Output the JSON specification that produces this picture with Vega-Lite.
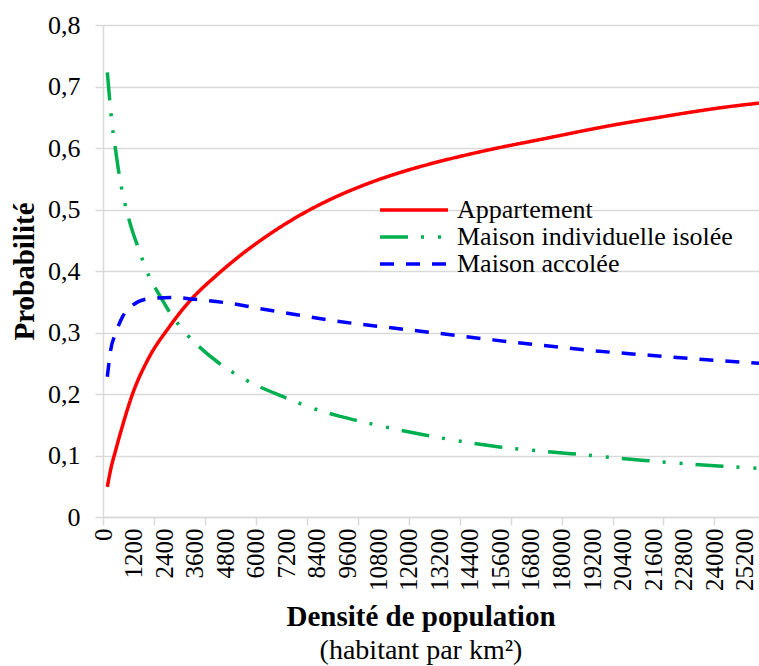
{
  "$schema": "https://vega.github.io/schema/vega-lite/v6.json",
  "width": 656,
  "height": 492,
  "autosize": {"type": "none"},
  "padding": {"left": 103, "top": 25, "right": 0, "bottom": 149},
  "config": {"view": {"stroke": null}},
  "title": {
    "text": "Densité de population",
    "subtitle": "(habitant par km²)",
    "orient": "bottom",
    "anchor": "middle",
    "font": "serif",
    "fontSize": 29,
    "fontWeight": "bold",
    "color": "black",
    "subtitleFont": "serif",
    "subtitleFontSize": 28,
    "subtitleFontWeight": "normal",
    "subtitleColor": "black",
    "subtitlePadding": 5,
    "offset": 12,
    "dx": -10
  },
  "data": {
    "values": [
      {"serie": "Appartement", "x": 170, "p": 0.049},
      {"serie": "Appartement", "x": 300, "p": 0.077},
      {"serie": "Appartement", "x": 500, "p": 0.109},
      {"serie": "Appartement", "x": 750, "p": 0.146},
      {"serie": "Appartement", "x": 1150, "p": 0.199},
      {"serie": "Appartement", "x": 1750, "p": 0.255},
      {"serie": "Appartement", "x": 2600, "p": 0.309},
      {"serie": "Appartement", "x": 3400, "p": 0.351},
      {"serie": "Appartement", "x": 4430, "p": 0.392},
      {"serie": "Appartement", "x": 5350, "p": 0.424},
      {"serie": "Appartement", "x": 6650, "p": 0.463},
      {"serie": "Appartement", "x": 7960, "p": 0.496},
      {"serie": "Appartement", "x": 9270, "p": 0.523},
      {"serie": "Appartement", "x": 10580, "p": 0.545},
      {"serie": "Appartement", "x": 11890, "p": 0.563},
      {"serie": "Appartement", "x": 13200, "p": 0.578},
      {"serie": "Appartement", "x": 14500, "p": 0.591},
      {"serie": "Appartement", "x": 15600, "p": 0.601},
      {"serie": "Appartement", "x": 16700, "p": 0.610},
      {"serie": "Appartement", "x": 17790, "p": 0.619},
      {"serie": "Appartement", "x": 19100, "p": 0.630},
      {"serie": "Appartement", "x": 20400, "p": 0.640},
      {"serie": "Appartement", "x": 21700, "p": 0.649},
      {"serie": "Appartement", "x": 23030, "p": 0.658},
      {"serie": "Appartement", "x": 24340, "p": 0.666},
      {"serie": "Appartement", "x": 25750, "p": 0.673},
      {"serie": "Maison individuelle isolée", "x": 170, "p": 0.723},
      {"serie": "Maison individuelle isolée", "x": 366, "p": 0.635},
      {"serie": "Maison individuelle isolée", "x": 500, "p": 0.595},
      {"serie": "Maison individuelle isolée", "x": 630, "p": 0.558},
      {"serie": "Maison individuelle isolée", "x": 1020, "p": 0.484},
      {"serie": "Maison individuelle isolée", "x": 1415, "p": 0.434},
      {"serie": "Maison individuelle isolée", "x": 1800, "p": 0.392},
      {"serie": "Maison individuelle isolée", "x": 2200, "p": 0.362},
      {"serie": "Maison individuelle isolée", "x": 2600, "p": 0.334},
      {"serie": "Maison individuelle isolée", "x": 3310, "p": 0.296},
      {"serie": "Maison individuelle isolée", "x": 3770, "p": 0.277},
      {"serie": "Maison individuelle isolée", "x": 4560, "p": 0.250},
      {"serie": "Maison individuelle isolée", "x": 5600, "p": 0.223},
      {"serie": "Maison individuelle isolée", "x": 7050, "p": 0.196},
      {"serie": "Maison individuelle isolée", "x": 8220, "p": 0.177},
      {"serie": "Maison individuelle isolée", "x": 9270, "p": 0.164},
      {"serie": "Maison individuelle isolée", "x": 9860, "p": 0.158},
      {"serie": "Maison individuelle isolée", "x": 12680, "p": 0.133},
      {"serie": "Maison individuelle isolée", "x": 15560, "p": 0.114},
      {"serie": "Maison individuelle isolée", "x": 18380, "p": 0.103},
      {"serie": "Maison individuelle isolée", "x": 21260, "p": 0.092},
      {"serie": "Maison individuelle isolée", "x": 24140, "p": 0.083},
      {"serie": "Maison individuelle isolée", "x": 25750, "p": 0.079},
      {"serie": "Maison accolée", "x": 170, "p": 0.228},
      {"serie": "Maison accolée", "x": 300, "p": 0.271},
      {"serie": "Maison accolée", "x": 500, "p": 0.299},
      {"serie": "Maison accolée", "x": 760, "p": 0.325},
      {"serie": "Maison accolée", "x": 1150, "p": 0.344},
      {"serie": "Maison accolée", "x": 1800, "p": 0.355},
      {"serie": "Maison accolée", "x": 2700, "p": 0.357},
      {"serie": "Maison accolée", "x": 3600, "p": 0.354},
      {"serie": "Maison accolée", "x": 4700, "p": 0.349},
      {"serie": "Maison accolée", "x": 5500, "p": 0.344},
      {"serie": "Maison accolée", "x": 6000, "p": 0.340},
      {"serie": "Maison accolée", "x": 7300, "p": 0.331},
      {"serie": "Maison accolée", "x": 8900, "p": 0.320},
      {"serie": "Maison accolée", "x": 11240, "p": 0.308},
      {"serie": "Maison accolée", "x": 13200, "p": 0.2985},
      {"serie": "Maison accolée", "x": 15300, "p": 0.288},
      {"serie": "Maison accolée", "x": 17260, "p": 0.279},
      {"serie": "Maison accolée", "x": 19360, "p": 0.270},
      {"serie": "Maison accolée", "x": 21450, "p": 0.263},
      {"serie": "Maison accolée", "x": 23550, "p": 0.256},
      {"serie": "Maison accolée", "x": 25750, "p": 0.250}
    ]
  },
  "layer": [
    {
      "mark": {"type": "line", "strokeWidth": 3.5, "interpolate": "monotone", "strokeCap": "butt"},
      "encoding": {
        "x": {
          "field": "x",
          "type": "quantitative",
          "scale": {"domain": [0, 25750], "nice": false},
          "axis": {
            "orient": "bottom",
            "values": [0, 1200, 2400, 3600, 4800, 6000, 7200, 8400, 9600, 10800, 12000, 13200, 14400, 15600, 16800, 18000, 19200, 20400, 21600, 22800, 24000, 25200],
            "format": "d",
            "labelAngle": -90,
            "labelAlign": "right",
            "labelBaseline": "middle",
            "labelFont": "serif",
            "labelFontSize": 25,
            "labelColor": "black",
            "labelPadding": 11,
            "labelOverlap": false,
            "labelFlush": false,
            "labelBound": false,
            "ticks": false,
            "domainColor": "#d9d9d9",
            "domainWidth": 1.5,
            "grid": false,
            "title": null
          }
        },
        "y": {
          "field": "p",
          "type": "quantitative",
          "scale": {"domain": [0, 0.8], "nice": false},
          "axis": {
            "values": [0, 0.1, 0.2, 0.3, 0.4, 0.5, 0.6, 0.7, 0.8],
            "labelExpr": "datum.value == 0 ? '0' : replace(format(datum.value, '.1f'), '.', ',')",
            "labelFont": "serif",
            "labelFontSize": 26,
            "labelColor": "black",
            "labelPadding": 15,
            "tickSize": 8,
            "tickColor": "#d9d9d9",
            "tickWidth": 1.5,
            "domainColor": "#d9d9d9",
            "domainWidth": 1.5,
            "grid": true,
            "gridColor": "#d9d9d9",
            "gridWidth": 1.5,
            "title": "Probabilité",
            "titleFont": "serif",
            "titleFontSize": 29,
            "titleFontWeight": "bold",
            "titleColor": "black",
            "titlePadding": 8
          }
        },
        "color": {
          "field": "serie",
          "type": "nominal",
          "scale": {"domain": ["Appartement", "Maison individuelle isolée", "Maison accolée"], "range": ["#ff0000", "#00b050", "#0000ff"]},
          "legend": {
            "orient": "none",
            "legendX": 298,
            "legendY": 172,
            "title": null,
            "symbolType": "M-3.4,0H3.4",
            "symbolSize": 400,
            "symbolStrokeWidth": 3.5,
            "labelFont": "serif",
            "labelFontSize": 26,
            "labelColor": "black",
            "labelOffset": 30,
            "labelLimit": 400,
            "rowPadding": 1,
            "padding": 0
          }
        },
        "strokeDash": {
          "field": "serie",
          "type": "nominal",
          "scale": {"domain": ["Appartement", "Maison individuelle isolée", "Maison accolée"], "range": [[1, 0], [28, 13, 3, 14, 3, 13], [14, 12]]},
          "legend": {
            "orient": "none",
            "legendX": 298,
            "legendY": 172,
            "title": null,
            "symbolType": "M-3.4,0H3.4",
            "symbolSize": 400,
            "symbolStrokeWidth": 3.5,
            "labelFont": "serif",
            "labelFontSize": 26,
            "labelColor": "black",
            "labelOffset": 30,
            "labelLimit": 400,
            "rowPadding": 1,
            "padding": 0
          }
        }
      }
    },
    {
      "mark": {"type": "point", "opacity": 0},
      "encoding": {
        "x": {
          "field": "x",
          "type": "quantitative",
          "axis": {
            "orient": "bottom",
            "values": [0, 2000, 4000, 6000, 8000, 10000, 12000, 14000, 16000, 18000, 20000, 22000, 24000],
            "labels": false,
            "ticks": true,
            "tickSize": 8,
            "tickColor": "#d9d9d9",
            "tickWidth": 1.5,
            "domain": false,
            "grid": false,
            "title": null
          }
        }
      }
    }
  ],
  "resolve": {"axis": {"x": "independent"}}
}
